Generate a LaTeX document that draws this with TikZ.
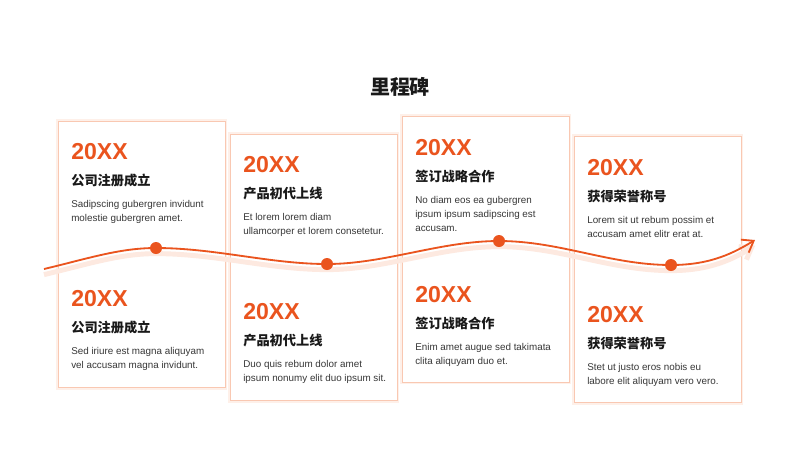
\documentclass[tikz,border=0pt]{standalone}
\usepackage{fontspec}
\setmainfont{Liberation Sans}
\newfontfamily\cjk{Noto Sans CJK SC}
\usetikzlibrary{positioning,arrows.meta}
\definecolor{msorange}{RGB}{234,84,30}
\definecolor{msline}{RGB}{249,200,178}
\definecolor{msglow}{RGB}{253,233,224}
\definecolor{mstext}{RGB}{25,25,25}
\definecolor{msbody}{RGB}{55,55,55}
\pgfdeclarelayer{front}
\pgfsetlayers{main,front}

\begin{document}
\begin{tikzpicture}[x=0.025cm,y=-0.025cm,
  card/.style={draw=msline,fill=white,line width=0.6pt,minimum width=4.175cm,minimum height=6.65cm,inner sep=0pt,
    preaction={draw=msglow!70,line width=3pt}},
  year/.style={anchor=west,inner sep=0pt,text=msorange,font=\fontsize{16.4}{18}\selectfont\bfseries},
  sub/.style={inner sep=0pt,text=mstext,font=\cjk\fontsize{9.4}{11}\selectfont\bfseries},
  body/.style={inner sep=0pt,text=msbody,align=left,font=\fontsize{7}{10}\selectfont},
  dot/.style={circle,fill=msorange,minimum size=0.3cm,inner sep=0pt},
  wave/.style={draw=msorange,line width=1.3pt}]
  \useasboundingbox[fill=white] (0,0) rectangle (800,450);

  \node[inner sep=0pt,text=mstext,font=\cjk\fontsize{14.2}{16}\selectfont\bfseries] (title) at (400,87) {里程碑};

  % cards
  \node[card] (c1) at (141.5,254.5) {};
  \node[card] (c2) at (313.5,267.5) {};
  \node[card] (c3) at (485.5,249) {};
  \node[card] (c4) at (657.5,269.5) {};

  % card 1
  \node[year] (y1a) at (71,152) {20XX};
  \node[sub,below=20.5pt of y1a.west,anchor=west] (s1a) {公司注册成立};
  \node[body,below=34pt of y1a.west,anchor=north west] (b1a) {Sadipscing gubergren invidunt\\molestie gubergren amet.};
  \node[year] (y1b) at (71,299) {20XX};
  \node[sub,below=20.5pt of y1b.west,anchor=west] (s1b) {公司注册成立};
  \node[body,below=34pt of y1b.west,anchor=north west] (b1b) {Sed iriure est magna aliquyam\\vel accusam magna invidunt.};

  % card 2
  \node[year] (y2a) at (243,165) {20XX};
  \node[sub,below=20pt of y2a.west,anchor=west] (s2a) {产品初代上线};
  \node[body,below=34pt of y2a.west,anchor=north west] (b2a) {Et lorem lorem diam\\ullamcorper et lorem consetetur.};
  \node[year] (y2b) at (243,312) {20XX};
  \node[sub,below=20pt of y2b.west,anchor=west] (s2b) {产品初代上线};
  \node[body,below=34pt of y2b.west,anchor=north west] (b2b) {Duo quis rebum dolor amet\\ipsum nonumy elit duo ipsum sit.};

  % card 3
  \node[year] (y3a) at (415,148) {20XX};
  \node[sub,below=20pt of y3a.west,anchor=west] (s3a) {签订战略合作};
  \node[body,below=34pt of y3a.west,anchor=north west] (b3a) {No diam eos ea gubergren\\ipsum ipsum sadipscing est\\accusam.};
  \node[year] (y3b) at (415,295) {20XX};
  \node[sub,below=20pt of y3b.west,anchor=west] (s3b) {签订战略合作};
  \node[body,below=34pt of y3b.west,anchor=north west] (b3b) {Enim amet augue sed takimata\\clita aliquyam duo et.};

  % card 4
  \node[year] (y4a) at (587,168) {20XX};
  \node[sub,below=20pt of y4a.west,anchor=west] (s4a) {获得荣誉称号};
  \node[body,below=34pt of y4a.west,anchor=north west] (b4a) {Lorem sit ut rebum possim et\\accusam amet elitr erat at.};
  \node[year] (y4b) at (587,315) {20XX};
  \node[sub,below=20pt of y4b.west,anchor=west] (s4b) {获得荣誉称号};
  \node[body,below=34pt of y4b.west,anchor=north west] (b4b) {Stet ut justo eros nobis eu\\labore elit aliquyam vero vero.};

  % timeline
  \coordinate (ws) at (44,269);
  \coordinate (we) at (755,240);
  \begin{pgfonlayer}{front}
    \node[dot] (d1) at (156,248) {};
    \node[dot] (d2) at (327,264) {};
    \node[dot] (d3) at (499,241) {};
    \node[dot] (d4) at (671,265) {};
  \end{pgfonlayer}
  \draw[wave,-{Straight Barb[length=2.6mm,width=3.8mm]},
    preaction={draw=msglow,line width=3.5pt,transform canvas={yshift=-4pt}}]
    (ws) .. controls (90,258) and (120,248) .. (d1.center)
    .. controls (215,248) and (270,264) .. (d2.center)
    .. controls (385,264) and (440,241) .. (d3.center)
    .. controls (560,241) and (610,265) .. (d4.center)
    .. controls (712,265) and (735,252) .. (we);
\end{tikzpicture}
\end{document}
